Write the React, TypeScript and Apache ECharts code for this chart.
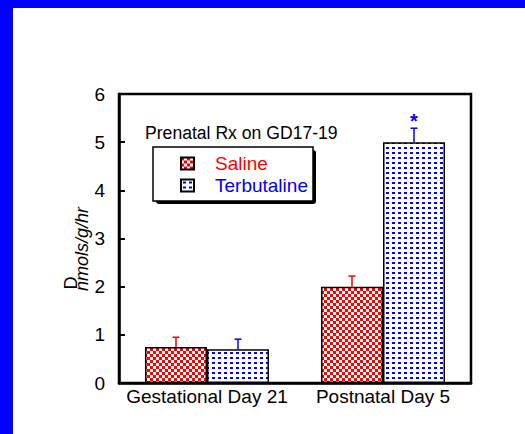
import React, { useEffect, useRef } from "react";
import * as echarts from "echarts";

const categories = ["Gestational Day 21", "Postnatal Day 5"];
const salineValues = [0.75, 2.0];
const terbutalineValues = [0.7, 5.0];
const salineErrors = [0.2, 0.22];
const terbutalineErrors = [0.21, 0.29];
const significance = ["", "*"];
const seriesNames = ["Saline", "Terbutaline"];
const legendTitle = "Prenatal Rx on GD17-19";
const yLabelSymbol = "D";
const yLabelUnit = "nmols/g/hr";

const FONT = "Liberation Sans, Arial, sans-serif";

function makeChecker(): HTMLCanvasElement {
  const c = document.createElement("canvas");
  c.width = 6;
  c.height = 6;
  const ctx = c.getContext("2d")!;
  ctx.fillStyle = "#ffffff";
  ctx.fillRect(0, 0, 6, 6);
  ctx.fillStyle = "#ff0000";
  ctx.fillRect(0, 0, 3, 3);
  ctx.fillRect(3, 3, 3, 3);
  return c;
}

function makeDots(): HTMLCanvasElement {
  const c = document.createElement("canvas");
  c.width = 6;
  c.height = 5;
  const ctx = c.getContext("2d")!;
  ctx.fillStyle = "#ffffff";
  ctx.fillRect(0, 0, 6, 5);
  ctx.fillStyle = "#0000ff";
  ctx.fillRect(2, 2, 3, 2);
  return c;
}

export default function App() {
  const ref = useRef<HTMLDivElement>(null);

  useEffect(() => {
    if (!ref.current) return;
    const chart = echarts.init(ref.current, null, { renderer: "svg" });
    const checker = { image: makeChecker(), repeat: "repeat" } as any;
    const dots = { image: makeDots(), repeat: "repeat" } as any;
    const BAR_W = 62;

    const errorSeries = (
      name: string,
      values: number[],
      errors: number[],
      color: string,
      offset: number,
      labels: string[]
    ) => ({
      type: "custom",
      name: name + " error",
      z: 5,
      silent: true,
      data: values.map((v, i) => [i, v, errors[i]]),
      renderItem: (params: any, api: any) => {
        const idx = api.value(0);
        const v = api.value(1);
        const e = api.value(2);
        const lbl = labels[idx] || "";
        const base = api.coord([idx, v]);
        const top = api.coord([idx, v + e]);
        const x = base[0] + offset;
        const children: any[] = [
          {
            type: "line",
            shape: { x1: x, y1: base[1], x2: x, y2: top[1] },
            style: { stroke: color, lineWidth: 1.5 },
          },
          {
            type: "line",
            shape: { x1: x - 3.5, y1: top[1], x2: x + 3.5, y2: top[1] },
            style: { stroke: color, lineWidth: 1.5 },
          },
        ];
        if (lbl) {
          children.push({
            type: "text",
            style: {
              text: lbl,
              x: x,
              y: top[1] + 3,
              align: "center",
              verticalAlign: "bottom",
              fill: color,
              font: "bold 20px " + FONT,
            },
          });
        }
        return { type: "group", children };
      },
    });

    chart.setOption({
      animation: false,
      backgroundColor: "#0000ff",
      textStyle: { fontFamily: FONT },
      title: {
        text: legendTitle,
        left: 145,
        top: 124,
        padding: 0,
        textStyle: { fontSize: 17.6, fontWeight: "normal", color: "#000", fontFamily: FONT },
      },
      legend: {
        data: [
          { name: seriesNames[0], textStyle: { color: "#ff0000" } },
          { name: seriesNames[1], textStyle: { color: "#0000ff" } },
        ],
        orient: "vertical",
        left: 180,
        top: 154,
        padding: 0,
        itemWidth: 13,
        itemHeight: 12,
        itemGap: 3,
        icon: "rect",
        selectedMode: false,
        textStyle: { fontSize: 19, fontFamily: FONT, padding: [0, 0, 0, 16] },
        z: 6,
      },
      grid: {
        left: 119,
        right: 54,
        top: 94,
        bottom: 51,
        show: true,
        borderColor: "#000",
        borderWidth: 2.5,
        backgroundColor: "transparent",
      },
      xAxis: {
        type: "category",
        data: categories,
        axisLine: { lineStyle: { color: "#000", width: 2.5 } },
        axisTick: { inside: true, length: 6, lineStyle: { color: "#000", width: 2 } },
        axisLabel: { color: "#000", fontSize: 19, margin: 4, interval: 0, fontFamily: FONT },
        splitLine: { show: false },
      },
      yAxis: {
        type: "value",
        min: 0,
        max: 6,
        interval: 1,
        axisLine: { show: true, lineStyle: { color: "#000", width: 2.5 } },
        axisTick: { show: true, inside: true, length: 6, lineStyle: { color: "#000", width: 2 } },
        axisLabel: { color: "#000", fontSize: 19, margin: 14, fontFamily: FONT },
        splitLine: { show: false },
      },
      graphic: [
        {
          type: "rect",
          z: -100,
          silent: true,
          shape: { x: 13, y: 8, width: 512, height: 426 },
          style: { fill: "#ffffff" },
        },
        {
          type: "rect",
          z: 1,
          silent: true,
          shape: { x: 156, y: 150, width: 160, height: 54, r: 3 },
          style: { fill: "#000" },
        },
        {
          type: "rect",
          z: 2,
          silent: true,
          shape: { x: 153, y: 147, width: 160, height: 54 },
          style: { fill: "#fff", stroke: "#000", lineWidth: 1.5 },
        },
        {
          type: "text",
          z: 3,
          x: 71,
          y: 283,
          rotation: Math.PI / 2,
          style: {
            text: yLabelSymbol,
            font: "18px " + FONT,
            fill: "#000",
            align: "center",
            verticalAlign: "middle",
          },
        },
        {
          type: "text",
          z: 3,
          x: 82,
          y: 249,
          rotation: Math.PI / 2,
          style: {
            text: yLabelUnit,
            font: "italic 18px " + FONT,
            fill: "#000",
            align: "center",
            verticalAlign: "middle",
          },
        },
      ],
      series: [
        {
          type: "bar",
          name: seriesNames[0],
          data: salineValues,
          barWidth: BAR_W,
          barGap: "0%",
          z: 3,
          itemStyle: { color: checker, borderColor: "#000", borderWidth: 1.5 },
        },
        {
          type: "bar",
          name: seriesNames[1],
          data: terbutalineValues,
          barWidth: BAR_W,
          barGap: "0%",
          z: 3,
          itemStyle: { color: dots, borderColor: "#000", borderWidth: 1.5 },
        },
        errorSeries(seriesNames[0], salineValues, salineErrors, "#ff0000", -BAR_W / 2, ["", ""]),
        errorSeries(seriesNames[1], terbutalineValues, terbutalineErrors, "#0000ff", BAR_W / 2, significance),
      ],
    });
    return () => chart.dispose();
  }, []);

  return (
    <div
      ref={ref}
      style={{ position: "fixed", left: 0, top: 0, width: 525, height: 434 }}
    />
  );
}
